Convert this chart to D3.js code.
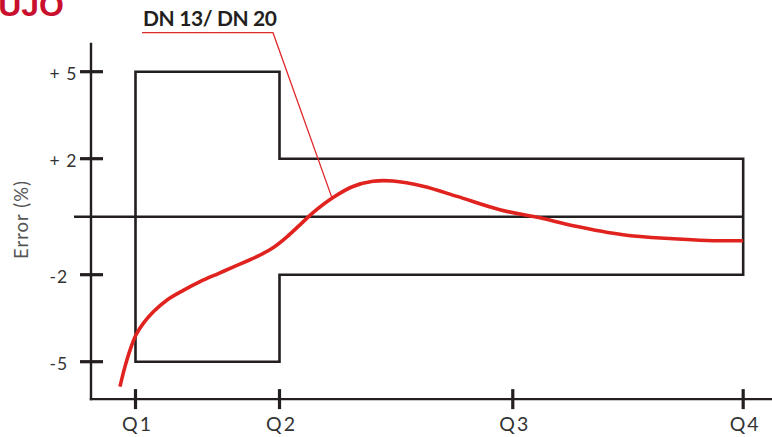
<!DOCTYPE html>
<html><head><meta charset="utf-8">
<script src="https://cdn.jsdelivr.net/npm/d3@7"></script>
<style>html,body{margin:0;padding:0;background:#fff;overflow:hidden}</style>
</head><body>
<svg id="c" width="772" height="437"></svg>
<script>
// ---- data ----
const qLabels = ["Q1", "Q2", "Q3", "Q4"];
const qPos = [0, 1, 2.62, 4.22];          // relative flow positions of Q1..Q4
const yTickValues = [5, 2, -2, -5];
const yTickLabels = ["+ 5", "+ 2", "-2", "-5"];
const upperLimit = [5, 2, 2];              // per segment Q1-Q2, Q2-Q3, Q3-Q4
const lowerLimit = [-5, -2, -2];
const curveX = [-0.108, -0.073, -0.038, 0.003, 0.054, 0.124, 0.217, 0.332, 0.448, 0.575, 0.677, 0.842, 0.955, 1.05, 1.142, 1.233, 1.372, 1.51, 1.649, 1.788, 1.997, 2.233, 2.53, 2.81, 3.04, 3.385, 3.733, 3.97, 4.22];
const curveY = [-5.86, -5.17, -4.60, -4.08, -3.68, -3.28, -2.88, -2.54, -2.24, -1.96, -1.74, -1.38, -1.07, -0.70, -0.28, 0.14, 0.66, 1.04, 1.22, 1.23, 1.05, 0.70, 0.24, -0.04, -0.31, -0.62, -0.76, -0.82, -0.83];
const seriesLabel = "DN 13/ DN 20";
const annotationAt = [1.365, 0.64];
const titleText = "FLUJO";
const yAxisTitle = "Error (%)";

// ---- scales ----
const svg = d3.select("#c");
const x = d3.scaleLinear().domain([0, 1]).range([135.5, 279.5]);
const y = d3.scaleLinear().domain([0, 5]).range([216.7, 71.7]);
const ink = "#231f20";
const font = "Lato, 'Open Sans', sans-serif";

// y axis line
const yAxisX = x.invert(91);
const yBottom = -6.29;
svg.append("line").attr("x1", x(yAxisX)).attr("x2", x(yAxisX))
  .attr("y1", y(6.0)).attr("y2", y(yBottom) + 1.2)
  .attr("stroke", ink).attr("stroke-width", 2.4);
// x axis line
svg.append("line").attr("x1", x(yAxisX) - 1.2).attr("x2", 772)
  .attr("y1", y(yBottom)).attr("y2", y(yBottom))
  .attr("stroke", ink).attr("stroke-width", 2.4);

// y ticks
svg.selectAll(".yt").data(yTickValues).enter().append("line")
  .attr("x1", x(yAxisX) - 11).attr("x2", x(yAxisX) + 12)
  .attr("y1", d => y(d)).attr("y2", d => y(d))
  .attr("stroke", ink).attr("stroke-width", 3.2);
svg.selectAll(".ytl").data(yTickValues).enter().append("text")
  .attr("x", 49.5).attr("y", d => y(d) + 8.5)
  .attr("font-family", font).attr("font-size", 17.5)
  .attr("letter-spacing", 1)
  .attr("fill", "#333").text((d, i) => yTickLabels[i]);

// x ticks
svg.selectAll(".xt").data(qPos).enter().append("line")
  .attr("x1", d => x(d)).attr("x2", d => x(d))
  .attr("y1", y(yBottom) - 10).attr("y2", y(yBottom) + 10)
  .attr("stroke", ink).attr("stroke-width", 3.2);
svg.selectAll(".xtl").data(qPos).enter().append("text")
  .attr("x", d => x(d) + 2).attr("y", 430.5)
  .attr("text-anchor", "middle")
  .attr("font-family", font).attr("font-size", 19.5)
  .attr("letter-spacing", 2)
  .attr("fill", "#333").text((d, i) => qLabels[i]);

// zero line
svg.append("line").attr("x1", 74).attr("x2", x(qPos[3]))
  .attr("y1", y(0)).attr("y2", y(0))
  .attr("stroke", ink).attr("stroke-width", 2.6);

// tolerance envelope
const env = [];
for (let i = 0; i < upperLimit.length; i++) {
  env.push([qPos[i], upperLimit[i]], [qPos[i + 1], upperLimit[i]]);
}
for (let i = lowerLimit.length - 1; i >= 0; i--) {
  env.push([qPos[i + 1], lowerLimit[i]], [qPos[i], lowerLimit[i]]);
}
svg.append("path")
  .attr("d", d3.line().x(d => x(d[0])).y(d => y(d[1]))(env) + "Z")
  .attr("fill", "none").attr("stroke", ink).attr("stroke-width", 2.6)
  .attr("stroke-linejoin", "miter");

// annotation leader
svg.append("path")
  .attr("d", `M142,32.7 L273,32.7 L${x(annotationAt[0])},${y(annotationAt[1])}`)
  .attr("fill", "none").attr("stroke", "#e0282a").attr("stroke-width", 1.3);

// error curve
const pts = curveX.map((v, i) => [v, curveY[i]]);
svg.append("path")
  .attr("d", d3.line().x(d => x(d[0])).y(d => y(d[1])).curve(d3.curveCatmullRom.alpha(0.5))(pts))
  .attr("fill", "none").attr("stroke", "#e0231f").attr("stroke-width", 3.6)
  .attr("stroke-linecap", "butt");

// series label
svg.append("text").attr("x", 143).attr("y", 25.5)
  .attr("font-family", "Lato, 'Open Sans', sans-serif").attr("font-weight", "bold")
  .attr("font-size", 21).attr("textLength", 134).attr("lengthAdjust", "spacing")
  .attr("fill", "#231f20").text(seriesLabel);

// y axis title
svg.append("text").attr("transform", "translate(28,219.5) rotate(-90)")
  .attr("text-anchor", "middle")
  .attr("font-family", font).attr("font-size", 18.5)
  .attr("letter-spacing", 1)
  .attr("fill", "#555").text(yAxisTitle);

// cropped title (cut at the top-left edge as in the source)
svg.append("text").attr("x", 64).attr("y", 16)
  .attr("text-anchor", "end")
  .attr("font-family", "'Liberation Sans', Arial, sans-serif").attr("font-weight", "bold")
  .attr("font-size", 32).attr("fill", "#c8102e").text(titleText);
</script>
</body></html>
